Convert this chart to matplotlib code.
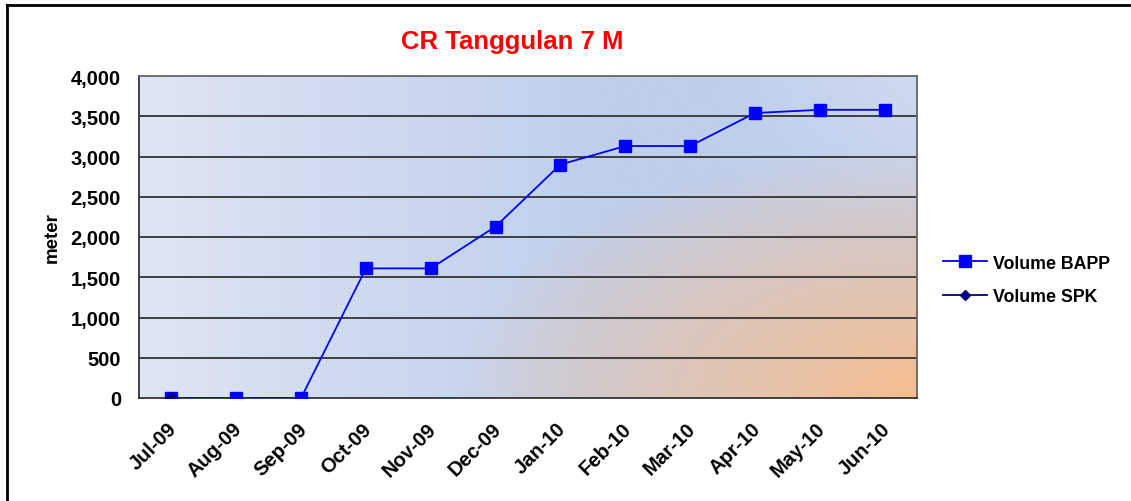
import numpy as np
import matplotlib.pyplot as plt
from matplotlib.lines import Line2D
from matplotlib.transforms import ScaledTranslation

months = ["Jul-09", "Aug-09", "Sep-09", "Oct-09", "Nov-09", "Dec-09",
          "Jan-10", "Feb-10", "Mar-10", "Apr-10", "May-10", "Jun-10"]
volume_bapp = [0, 0, 0, 1610, 1610, 2130, 2900, 3130, 3130, 3540, 3580, 3580]
volume_spk = [0]
y_ticks = [0, 500, 1000, 1500, 2000, 2500, 3000, 3500, 4000]

plt.rcParams['font.family'] = ['Liberation Sans', 'DejaVu Sans']
plt.rcParams['font.weight'] = 'bold'

W, H = 1131, 502
fig = plt.figure(figsize=(W / 100, H / 100), dpi=100)

# plot area in pixels
x0, x1, y_top, y_bot = 139, 917, 77, 399
ax = fig.add_axes([x0 / W, 1 - y_bot / H, (x1 - x0) / W, (y_bot - y_top) / H])

# background gradient (blue to orange corner)
nx, ny = 400, 170
u = np.linspace(0, 1, nx)[None, :]
v = np.linspace(1, 0, ny)[:, None]
light = np.array([224, 230, 243]) / 255
blue = np.array([190, 207, 236]) / 255
orange = np.array([246, 190, 144]) / 255
t = np.clip(u / 0.6, 0, 1) ** 0.9 * np.ones_like(v)
t = t - np.clip((u - 0.75) / 0.25, 0, 1) * np.clip((v - 0.5) / 0.5, 0, 1) * 0.5
base = light[None, None, :] * (1 - t[..., None]) + blue[None, None, :] * t[..., None]
pw, ph = (x1 - x0), (y_bot - y_top)
d = np.sqrt(((1 - u) * pw / 460) ** 2 + (v * ph / 250) ** 2)
w = np.clip(1 - d, 0, 1) ** 0.85
img = base * (1 - w[..., None]) + orange[None, None, :] * w[..., None]
ax.imshow(img, extent=[-0.5, 11.5, 0, 4000], aspect='auto', zorder=0)

xs = np.arange(len(months))
ax.plot(xs, volume_bapp, color='#0000ff', lw=1.3, marker='s', ms=8,
        markerfacecolor='#0000ff', markeredgecolor='#0000ff', zorder=3)
ax.plot(xs[:len(volume_spk)], volume_spk, color='#000080', lw=1.3, marker='D', ms=6,
        markerfacecolor='#000080', markeredgecolor='#000080', zorder=4)

ax.set_xlim(-0.5, 11.5)
ax.set_ylim(0, 4000)
ax.set_yticks(y_ticks)
ax.set_yticklabels([f"{t:,}" for t in y_ticks], fontsize=14.5, fontweight='bold')
ax.set_xticks(xs)
ax.set_xticklabels(months, rotation=45, ha='right', rotation_mode='anchor',
                   fontsize=14.5, fontweight='bold')
ax.tick_params(axis='both', length=0)
ax.tick_params(axis='y', pad=13)
ax.tick_params(axis='x', pad=15)
shift = ScaledTranslation(-4 / 100, 0, fig.dpi_scale_trans)
for lab in ax.get_xticklabels():
    lab.set_transform(lab.get_transform() + shift)
for yv in y_ticks[1:-1]:
    ax.axhline(yv, color='#333333', lw=1.3, zorder=1)
for s in ax.spines.values():
    s.set_color('#666666')
    s.set_linewidth(1.3)
ax.spines['left'].set_color('#333333')
ax.spines['bottom'].set_color('#333333')

ax.set_ylabel('meter', fontsize=13.5, fontweight='bold', labelpad=7)
fig.text(512 / W, 1 - 42 / H, 'CR Tanggulan 7 M', color='#ff0000', fontsize=18.5,
         fontweight='bold', ha='center', va='center')

handles = [
    Line2D([], [], color='#0000ff', lw=1.3, marker='s', ms=8),
    Line2D([], [], color='#000080', lw=1.3, marker='D', ms=5),
]
fig.legend(handles, ['Volume BAPP', 'Volume SPK'], loc='center left',
           bbox_to_anchor=(927 / W, 1 - 281 / H), frameon=False,
           prop={'size': 12.8, 'weight': 'bold'}, handlelength=2.5,
           handletextpad=0.3, labelspacing=0.95)

# outer frame (left and top visible)
fig.add_artist(Line2D([7 / W, 7 / W], [0, 1 - 6 / H], color='black', lw=2, transform=fig.transFigure))
fig.add_artist(Line2D([7 / W, 1], [1 - 6 / H, 1 - 6 / H], color='black', lw=2, transform=fig.transFigure))

fig.savefig('out.png', dpi=100)
